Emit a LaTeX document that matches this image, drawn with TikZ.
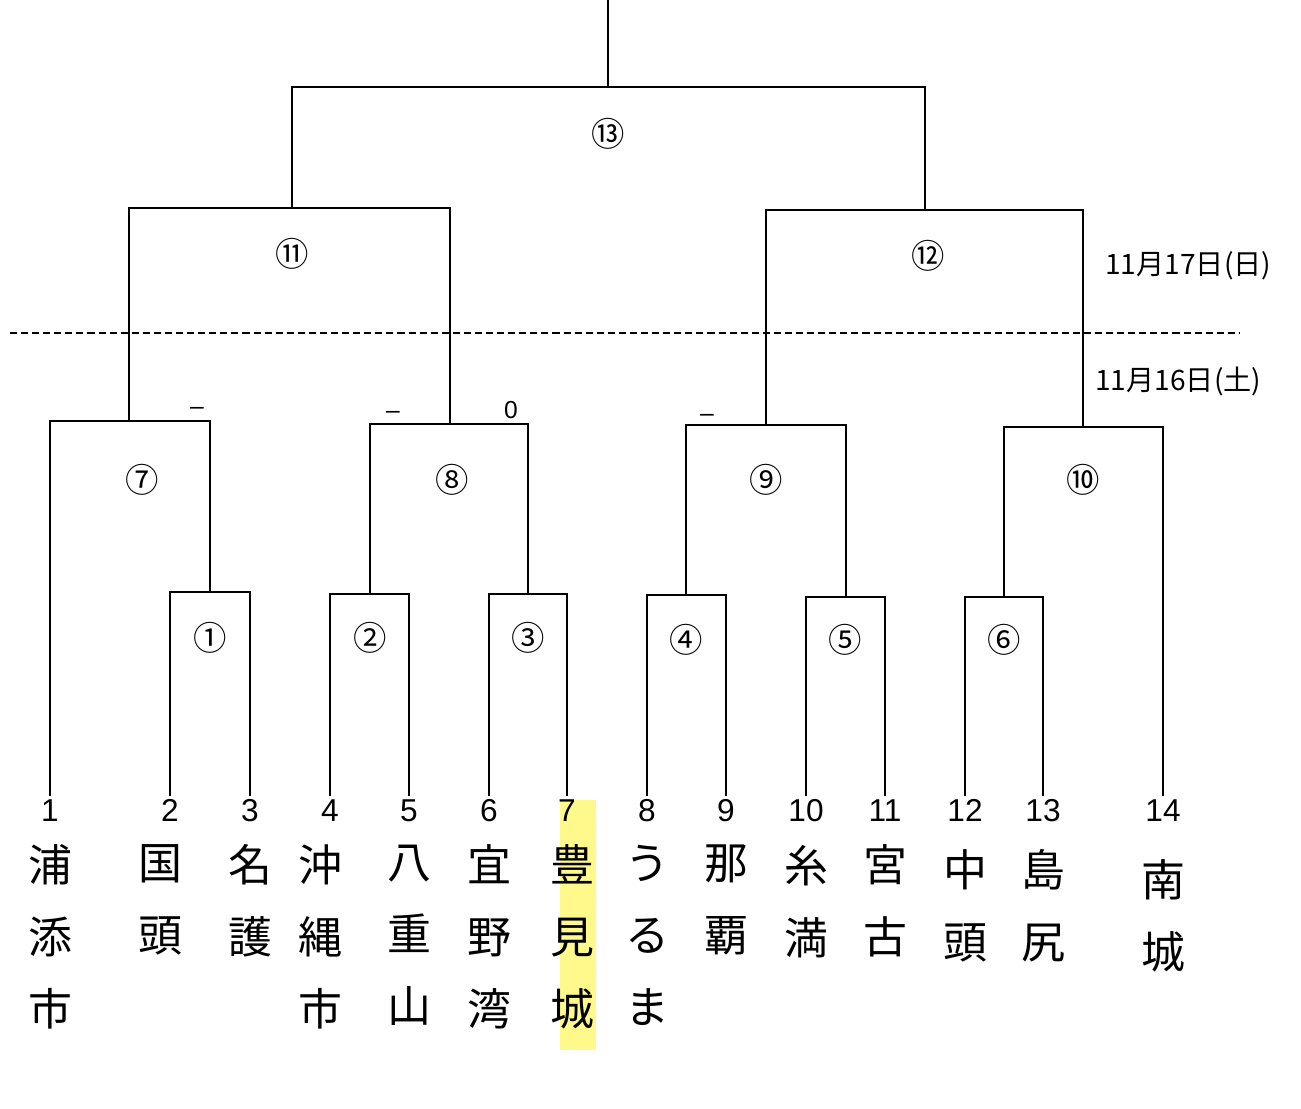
\documentclass[tikz,border=0pt]{standalone}
\usepackage{fontspec}
\setmainfont{Liberation Sans}
\newfontfamily\jpfont{Noto Sans CJK JP}
\usetikzlibrary{positioning}

\begin{document}
\begin{tikzpicture}[x=0.2mm, y=-0.2mm]

% definitions
\tikzstyle{entry} = [inner sep=0pt, outer sep=0.7mm, text height=12.5pt, text depth=0pt, font=\fontsize{18}{18}\selectfont]

\tikzstyle{team} = [inner sep=0pt, align=center, font=\jpfont\fontsize{25}{41}\selectfont]

\tikzstyle{match} = [inner sep=0pt, font=\jpfont\fontsize{19}{19}\selectfont]

\tikzstyle{day} = [inner sep=0pt, anchor=west, font=\jpfont\fontsize{16}{16}\selectfont]

\tikzstyle{score} = [inner sep=0pt, font=\fontsize{14}{14}\selectfont]

\tikzstyle{line} = [line width=1.6pt]

\tikzstyle{cutline} = [line width=1.1pt, dash pattern=on 4pt off 2.3pt]

\useasboundingbox (0,0) rectangle (1301,1108);

% highlighter on team 7
\fill [yellow!45] (560,800) rectangle (596,1050);

% the graph
\node (n1) [entry] at (50,810) {1};
\node (n2) [entry] at (170,810) {2};
\node (n3) [entry] at (250,810) {3};
\node (n4) [entry] at (330,810) {4};
\node (n5) [entry] at (409,810) {5};
\node (n6) [entry] at (489,810) {6};
\node (n7) [entry] at (567,810) {7};
\node (n8) [entry] at (647,810) {8};
\node (n9) [entry] at (726,810) {9};
\node (n10) [entry] at (806,810) {10};
\node (n11) [entry] at (885,810) {11};
\node (n12) [entry] at (965,810) {12};
\node (n13) [entry] at (1043,810) {13};
\node (n14) [entry] at (1163,810) {14};

\node (t1) [team, below=4mm of n1] {浦\\添\\市};
\node (t2) [team, below=4mm of n2, xshift=-2mm] {国\\頭};
\node (t3) [team, below=4mm of n3] {名\\護};
\node (t4) [team, below=4mm of n4, xshift=-2mm] {沖\\縄\\市};
\node (t5) [team, below=4mm of n5] {八\\重\\山};
\node (t6) [team, below=4mm of n6] {宜\\野\\湾};
\node (t7) [team, below=4mm of n7, xshift=1mm] {豊\\見\\城};
\node (t8) [team, below=4mm of n8] {う\\る\\ま};
\node (t9) [team, below=4mm of n9] {那\\覇};
\node (t10) [team, below=4mm of n10] {糸\\満};
\node (t11) [team, below=4mm of n11] {宮\\古};
\node (t12) [team, below=5mm of n12] {中\\頭};
\node (t13) [team, below=5mm of n13] {島\\尻};
\node (t14) [team, below=7mm of n14] {南\\城};

\coordinate (j1) at (210,592);
\coordinate (j2) at (370,594);
\coordinate (j3) at (528,594);
\coordinate (j4) at (686,595);
\coordinate (j5) at (846,597);
\coordinate (j6) at (1004,597);
\coordinate (j7) at (129,421);
\coordinate (j8) at (450,424);
\coordinate (j9) at (766,425);
\coordinate (j10) at (1083,427);
\coordinate (j11) at (292,208);
\coordinate (j12) at (925,210);
\coordinate (j13) at (608,87);
\coordinate (win) at (608,0);

\node (m1) [match] at (210,638) {①};
\node (m2) [match] at (370,638) {②};
\node (m3) [match] at (528,638) {③};
\node (m4) [match] at (686,640) {④};
\node (m5) [match] at (845,640) {⑤};
\node (m6) [match] at (1004,640) {⑥};
\node (m7) [match] at (142,480) {⑦};
\node (m8) [match] at (452,480) {⑧};
\node (m9) [match] at (766,480) {⑨};
\node (m10) [match] at (1083,480) {⑩};
\node (m11) [match] at (292,254) {⑪};
\node (m12) [match] at (928,256) {⑫};
\node (m13) [match] at (608,134) {⑬};

\node (d17) [day] at (1105,266) {11月17日(日)};
\node (d16) [day] at (1095,381) {11月16日(土)};

\node (s1) [score] at (197,411) {–};
\node (s2) [score] at (393,415) {–};
\node (s3) [score] at (511,410) {0};
\node (s4) [score] at (707,418) {–};

\draw [line] (n2.north) |- (j1) -| (n3.north);
\draw [line] (n4.north) |- (j2) -| (n5.north);
\draw [line] (n6.north) |- (j3) -| (n7.north);
\draw [line] (n8.north) |- (j4) -| (n9.north);
\draw [line] (n10.north) |- (j5) -| (n11.north);
\draw [line] (n12.north) |- (j6) -| (n13.north);

\draw [line] (n1.north) |- (j7) -| (j1);
\draw [line] (j2) |- (j8) -| (j3);
\draw [line] (j4) |- (j9) -| (j5);
\draw [line] (j6) |- (j10) -| (n14.north);

\draw [line] (j7) |- (j11) -| (j8);
\draw [line] (j9) |- (j12) -| (j10);

\draw [line] (j11) |- (j13) -| (j12);
\draw [line] (j13) -- (win);

\draw [cutline] (10,333) -- (1240,333);

\end{tikzpicture}
\end{document}
